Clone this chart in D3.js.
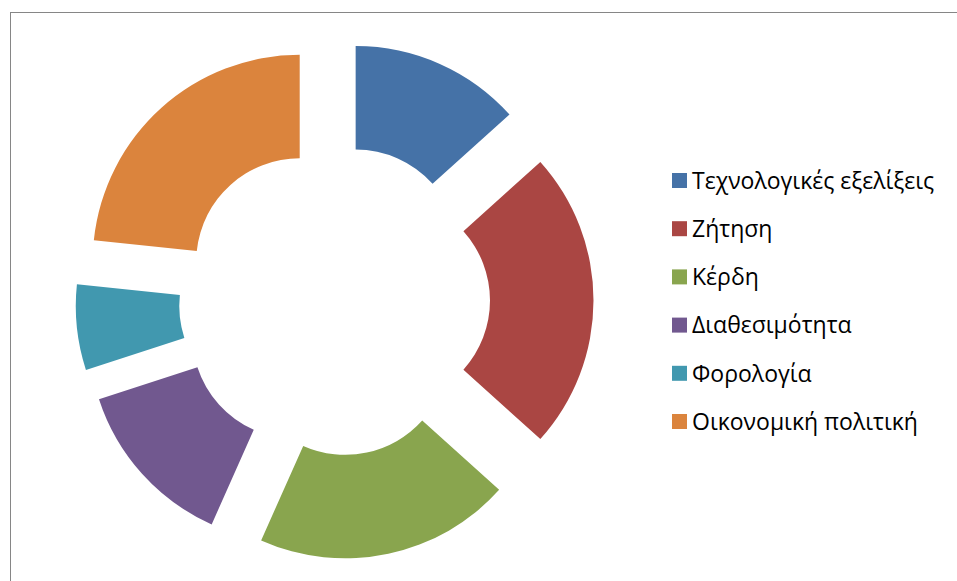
<!DOCTYPE html>
<html>
<head>
<meta charset="utf-8">
<script src="https://cdn.jsdelivr.net/npm/d3@7"></script>
<style>
  html, body { margin: 0; padding: 0; background: #fff; }
  svg { display: block; }
</style>
</head>
<body>
<svg id="chart" width="957" height="581"></svg>
<script>
// Factors and their counts
const categories = [
  "Τεχνολογικές εξελίξεις",
  "Ζήτηση",
  "Κέρδη",
  "Διαθεσιμότητα",
  "Φορολογία",
  "Οικονομική πολιτική"
];
const values = [4, 7, 6, 4, 2, 7];
const colors = ["#4572A7", "#AA4643", "#89A54E", "#71588F", "#4198AF", "#DB843D"];

const svg = d3.select("#chart");

// chart frame
svg.append("rect")
  .attr("x", 10.5).attr("y", 12.5)
  .attr("width", 980).attr("height", 620)
  .attr("fill", "#fff")
  .attr("stroke", "#868686")
  .attr("stroke-width", 1);

// exploded doughnut
const cx = 334.5, cy = 300.5;
const outerR = 207, innerR = 103.5, explode = 52;

const pie = d3.pie().sort(null).value(d => d).startAngle(0).endAngle(2 * Math.PI);
const arc = d3.arc().innerRadius(innerR).outerRadius(outerR);
const slices = pie(values);

const g = svg.append("g").attr("transform", `translate(${cx},${cy})`);
g.selectAll("path")
  .data(slices)
  .join("path")
  .attr("d", arc)
  .attr("fill", (d, i) => colors[i])
  .attr("transform", d => {
    const mid = (d.startAngle + d.endAngle) / 2;
    return `translate(${Math.sin(mid) * explode},${-Math.cos(mid) * explode})`;
  });

// legend
const legend = svg.append("g").attr("transform", "translate(672,180.5)");
const rowStep = 48.2;
const items = legend.selectAll("g")
  .data(categories)
  .join("g")
  .attr("transform", (d, i) => `translate(0,${i * rowStep})`);
items.append("rect")
  .attr("x", 0).attr("y", -7.5)
  .attr("width", 15).attr("height", 15)
  .attr("fill", (d, i) => colors[i]);
items.append("text")
  .attr("x", 20).attr("y", 0)
  .attr("dy", "0.36em")
  .attr("font-family", "'Open Sans', 'Noto Sans', sans-serif")
  .attr("font-size", 23)
  .attr("fill", "#000")
  .text(d => d);
</script>
</body>
</html>
